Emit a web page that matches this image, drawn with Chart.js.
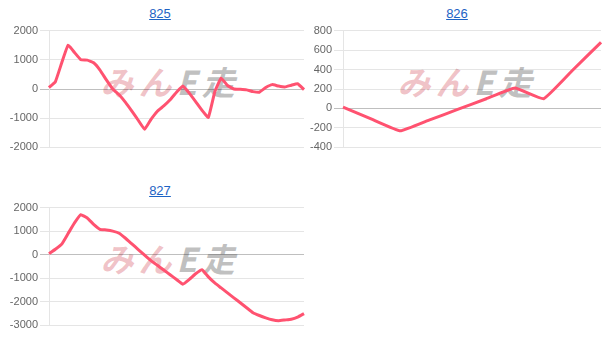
<!DOCTYPE html>
<html>
<head>
<meta charset="utf-8">
<script src="https://cdn.jsdelivr.net/npm/chart.js@4"></script>
<style>
    body { margin: 0; background: #fff; font-family: 'Liberation Sans', Arial, sans-serif; }
    .title { position: absolute; width: 100px; text-align: center; font-size: 13px; line-height: 14px; }
    .title a { color: #1d63c4; text-decoration: underline; }
    .mark { position: absolute; font-family: 'Noto Sans CJK JP'; font-weight: bold;
        font-size: 33px; line-height: 30px; letter-spacing: 5px; white-space: nowrap; transform: skewX(-14deg); }
    .mark .a { color: rgba(222, 120, 130, 0.45); }
    .mark .b { color: rgba(150, 150, 150, 0.6); }
    canvas { position: absolute; }
</style>
</head>
<body>
<div class="title" style="left:110px;top:7px"><a href="#">825</a></div>
<div class="title" style="left:407px;top:7px"><a href="#">826</a></div>
<div class="title" style="left:110px;top:184px"><a href="#">827</a></div>

<div class="mark" style="left:104px;top:66px"><span class="a">みん</span><span class="b">E走</span></div>
<div class="mark" style="left:401px;top:66px"><span class="a">みん</span><span class="b">E走</span></div>
<div class="mark" style="left:104px;top:243px"><span class="a">みん</span><span class="b">E走</span></div>

<canvas id="c825" style="left:0px;top:22px"></canvas>
<canvas id="c826" style="left:300px;top:22px"></canvas>
<canvas id="c827" style="left:0px;top:199px"></canvas>

<script>
// 825
const values825 = [50, 250, 900, 1500, 1250, 1000, 990, 900, 650, 310,
    0, -200, -460, -760, -1070, -1380, -1040, -760, -580, -370,
    -110, 100, -140, -430, -730, -970, -100, 370, 120, 0,
    -10, -30, -90, -110, 50, 150, 100, 70, 130, 180, -20]
const ticks825 = { min: -2000, max: 2000, step: 1000 }

// 826
const values826 = [15, -110, -230, -120, -10, 100, 210, 100, 390, 680]
const ticks826 = { min: -400, max: 800, step: 200 }

// 827
const values827 = [40, 230, 450, 900, 1350, 1700, 1560, 1290, 1080, 1050,
    1000, 910, 700, 460, 220, -20, -250, -450, -650, -850,
    -1050, -1250, -1050, -810, -640, -940, -1200, -1410, -1620, -1830,
    -2040, -2250, -2460, -2580, -2680, -2760, -2800, -2770, -2740, -2650, -2500]
const ticks827 = { min: -3000, max: 2000, step: 1000 }

function makeChart(id, values, ticks, width, height, axisWidth) {
    const canvas = document.getElementById(id)
    canvas.width = width
    canvas.height = height
    canvas.style.width = width + 'px'
    canvas.style.height = height + 'px'
    return new Chart(canvas, {
        type: 'line',
        data: {
            labels: values.map((v, i) => i + 1),
            datasets: [{
                data: values,
                borderColor: 'rgb(255, 82, 112)',
                borderWidth: 3,
                pointRadius: 0,
                tension: 0.1,
                fill: false,
            }],
        },
        options: {
            responsive: false,
            animation: false,
            layout: { padding: { top: 8, bottom: 8, left: 0, right: 1 } },
            plugins: { legend: { display: false }, tooltip: { enabled: false } },
            scales: {
                x: { display: false },
                y: {
                    min: ticks.min,
                    max: ticks.max,
                    afterFit: (scale) => { scale.width = axisWidth },
                    ticks: {
                        stepSize: ticks.step,
                        color: '#666',
                        padding: 2,
                        font: { family: "'Liberation Sans', Arial", size: 11 },
                        callback: (value) => String(value),
                    },
                    grid: {
                        color: (ctx) => ctx.tick && ctx.tick.value === 0 ? 'rgba(0,0,0,0.25)' : 'rgba(0,0,0,0.1)',
                        tickLength: 9,
                    },
                    border: { color: 'rgba(0,0,0,0.1)' },
                },
            },
        },
    })
}

makeChart('c825', values825, ticks825, 305, 134, 49)
makeChart('c826', values826, ticks826, 302, 134, 43)
makeChart('c827', values827, ticks827, 305, 135, 49)
</script>
</body>
</html>
